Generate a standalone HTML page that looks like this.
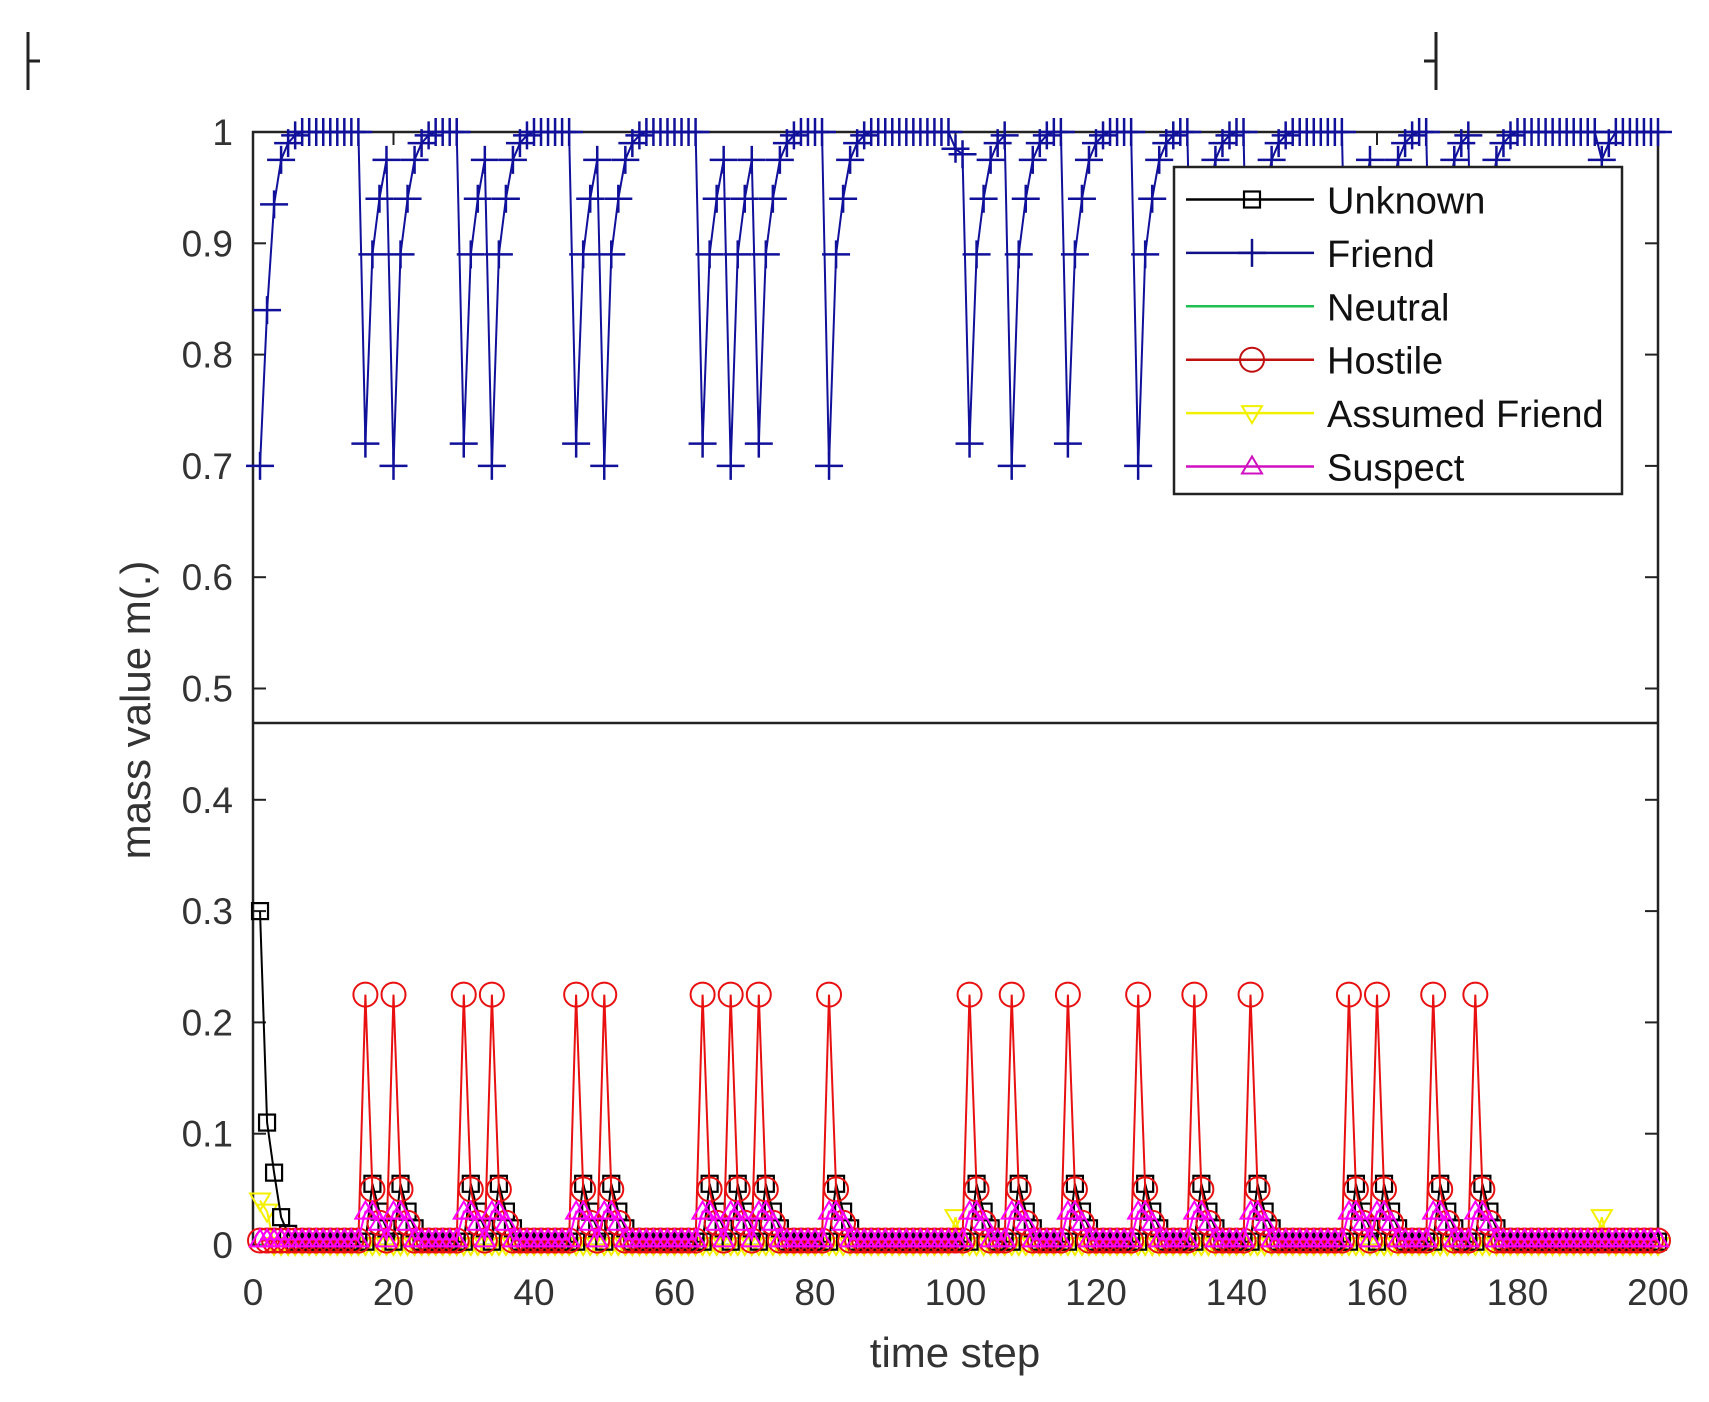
<!DOCTYPE html>
<html><head><meta charset="utf-8"><style>
html,body{margin:0;padding:0;background:#fff;}
svg{display:block;font-family:"Liberation Sans",sans-serif;}
</style></head><body>
<svg id="s" width="1709" height="1402" viewBox="0 0 1709 1402" xmlns="http://www.w3.org/2000/svg">
<rect width="1709" height="1402" fill="#fff"/>
<g stroke="#222" stroke-width="3">
<line x1="28" y1="32" x2="28" y2="90"/><line x1="28" y1="61" x2="40" y2="61"/>
<line x1="1436" y1="32" x2="1436" y2="90"/><line x1="1424" y1="61" x2="1436" y2="61"/>
</g>
<g id="ax"></g>
<g id="data"></g>
<g id="leg"></g>
</svg>
<script>
const NS="http://www.w3.org/2000/svg";
const X0=253,X1=1658,Y0=1245,YS=1113;
const X=t=>X0+t*(X1-X0)/200, Y=v=>Y0-v*YS;
function el(p,tag,a,txt){const e=document.createElementNS(NS,tag);for(const k in a)e.setAttribute(k,a[k]);if(txt!==undefined)e.textContent=txt;p.appendChild(e);return e;}
const ax=document.getElementById('ax'),dg=document.getElementById('data'),lg=document.getElementById('leg');
el(ax,'rect',{x:X0,y:Y(1),width:X1-X0,height:Y0-Y(1),fill:'none',stroke:'#222','stroke-width':2.5});
for(let i=0;i<=10;i++){const y=Y(i/10);
 el(ax,'line',{x1:X0,y1:y,x2:X0+13,y2:y,stroke:'#222','stroke-width':2});
 el(ax,'line',{x1:X1-13,y1:y,x2:X1,y2:y,stroke:'#222','stroke-width':2});
 el(ax,'text',{x:X0-20,y:y+13,'text-anchor':'end','font-size':37,fill:'#333'},i==0?'0':i==10?'1':(i/10).toFixed(1));}
for(let t=0;t<=200;t+=20){const x=X(t);
 el(ax,'line',{x1:x,y1:Y0,x2:x,y2:Y0-13,stroke:'#222','stroke-width':2});
 el(ax,'line',{x1:x,y1:Y(1),x2:x,y2:Y(1)+13,stroke:'#222','stroke-width':2});
 el(ax,'text',{x:x,y:1305,'text-anchor':'middle','font-size':37,fill:'#333'},String(t));}
el(ax,'text',{x:955,y:1367,'text-anchor':'middle','font-size':42,fill:'#333'},'time step');
el(ax,'text',{x:0,y:0,'text-anchor':'middle','font-size':42,fill:'#333',transform:'translate(150,710) rotate(-90)'},'mass value m(.)');
el(ax,'line',{x1:X0,y1:723,x2:X1,y2:723,stroke:'#222','stroke-width':2.5});
const dips=[16,20,30,34,46,50,64,68,72,82,102,108,116,126,134,142,156,160,168,174];
const N=201,f=[],h=[],u=[],s=[],a=[];
for(let t=0;t<N;t++){f[t]=1;h[t]=0.004;u[t]=0.003;s[t]=0.005;a[t]=0.0;}
const rec=[0.89,0.94,0.975,0.99,0.997];
f[1]=0.7;f[2]=0.84;f[3]=0.935;f[4]=0.975;f[5]=0.99;f[6]=0.997;
u[1]=0.3;u[2]=0.11;u[3]=0.065;u[4]=0.025;u[5]=0.01;a[1]=0.04;a[2]=0.03;
dips.forEach((d,i)=>{f[d]=(i%2?0.70:0.72);for(let k=0;k<5;k++)if(d+1+k<N&&!dips.includes(d+1+k))f[d+1+k]=Math.min(f[d+1+k],rec[k]);
 h[d]=0.225;h[d+1]=0.05;h[d+2]=0.02;u[d+1]=0.055;u[d+2]=0.03;u[d+3]=0.015;s[d]=0.03;s[d+1]=0.03;s[d+2]=0.02;});
f[100]=0.985;f[101]=0.98;a[100]=0.025;f[192]=0.975;f[193]=0.99;a[192]=0.025;
function line(arr,col,w){let d='';for(let t=1;t<N;t++)d+=(t==1?'M':'L')+X(t).toFixed(1)+','+Y(arr[t]).toFixed(1);el(dg,'path',{d:d,fill:'none',stroke:col,'stroke-width':w});}
function mk(p,type,x,y,col){
 if(type=='sq')el(p,'rect',{x:x-8,y:y-8,width:16,height:16,fill:'none',stroke:col,'stroke-width':2.2});
 else if(type=='plus'){el(p,'path',{d:`M${x-14},${y}H${x+14}M${x},${y-14}V${y+14}`,stroke:col,'stroke-width':2.5});}
 else if(type=='ci')el(p,'circle',{cx:x,cy:y,r:12,fill:'none',stroke:col,'stroke-width':2});
 else if(type=='dn')el(p,'path',{d:`M${x-10},${y-7}H${x+10}L${x},${y+10}Z`,fill:'none',stroke:col,'stroke-width':2});
 else if(type=='up')el(p,'path',{d:`M${x-10},${y+7}H${x+10}L${x},${y-10}Z`,fill:'none',stroke:col,'stroke-width':2});}
const series=[[a,'#f5f000','dn'],[u,'#000','sq'],[h,'#e81010','ci'],[s,'#ff00ff','up'],[f,'#10109a','plus']];
line(a.map(()=>0),'#00b050',2);
series.forEach(([arr,col,m])=>{line(arr,col,2);for(let t=1;t<N;t++)mk(dg,m,X(t),Y(arr[t]),col);});
el(lg,'rect',{x:1174,y:167,width:448,height:327,fill:'#fff',stroke:'#222','stroke-width':2.5});
const L=[['Unknown','#000','sq'],['Friend','#10108a','plus'],['Neutral','#20c050',null],['Hostile','#c01010','ci'],['Assumed Friend','#f0f000','dn'],['Suspect','#d010c0','up']];
L.forEach(([n,c,m],i)=>{const y=199.5+i*53.4;
 el(lg,'line',{x1:1186,y1:y,x2:1314,y2:y,stroke:c,'stroke-width':2.5});
 if(m)mk(lg,m,1252,y,c);
 el(lg,'text',{x:1327,y:y+14,'font-size':38,fill:'#111'},n);});
</script>
</body></html>
